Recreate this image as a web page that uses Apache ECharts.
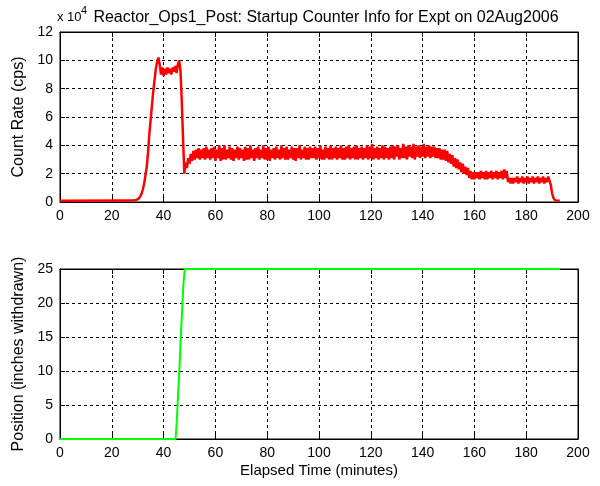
<!DOCTYPE html>
<html>
<head>
<meta charset="utf-8">
<script src="https://cdn.jsdelivr.net/npm/echarts@6/dist/echarts.min.js"></script>
<style>
  html, body { margin: 0; padding: 0; background: #fff; }
  #chart { width: 600px; height: 486px; }
</style>
</head>
<body>
<div id="chart"></div>
<script>
// count rate, in units of 1e4 cps
var preRampTimes = [0, 26.5];
var preRampRates = [0.08, 0.1];
var sampleStart = 27;   // minutes
var sampleStep = 0.5;   // minutes
var countRate = [
    // 27 - 47.5 : rise and first plateau
    0.1, 0.1, 0.1, 0.12, 0.12, 0.15, 0.2, 0.25, 0.4, 0.6,
    0.9, 1.3, 1.9, 2.5, 3.5, 4.8, 5.8, 6.8, 7.8, 8.6,
    9.4, 9.9, 10.2, 9.7, 9.0, 9.5, 8.9, 9.4, 9.0, 9.5,
    9.1, 9.4, 9.0, 9.5, 9.2, 9.6, 9.1, 9.7, 10.0, 9.3,
    7.2, 4.5,
    // 48 - 57.5
    2.0, 2.8, 2.4, 3.1, 2.7, 3.4, 2.9, 3.6, 3.0, 3.7, 3.1, 3.8, 3.0, 3.7, 3.1, 3.8, 3.0, 3.9, 3.1, 3.7,
    // 58 - 67.5
    3.0, 3.8, 3.1, 3.9, 2.9, 3.7, 3.1, 4.0, 2.9, 3.8, 3.0, 4.0, 3.0, 3.7, 3.1, 3.9, 3.0, 3.8, 2.9, 3.7,
    // 68 - 77.5
    3.1, 3.9, 3.0, 3.8, 3.1, 3.7, 2.9, 3.9, 3.0, 3.8, 3.0, 4.0, 3.1, 3.7, 2.9, 3.8, 3.1, 3.9, 3.0, 3.7,
    // 78 - 87.5
    3.1, 4.0, 3.0, 3.8, 3.0, 3.9, 2.9, 3.7, 3.1, 3.8, 3.0, 3.9, 3.1, 3.7, 3.0, 4.0, 3.1, 3.8, 3.0, 3.9,
    // 88 - 97.5
    3.0, 3.7, 3.1, 3.9, 3.0, 3.8, 2.9, 3.8, 3.1, 4.0, 3.0, 3.7, 3.1, 3.9, 3.0, 3.8, 3.0, 3.9, 3.1, 3.8,
    // 98 - 107.5
    3.1, 3.9, 3.0, 3.8, 3.1, 4.0, 3.0, 3.7, 3.0, 3.9, 3.1, 3.8, 3.0, 4.0, 3.0, 3.8, 3.1, 3.9, 3.0, 3.8,
    // 108 - 117.5
    3.1, 4.0, 3.0, 3.8, 3.0, 3.9, 3.1, 4.0, 3.0, 3.8, 3.1, 3.9, 3.0, 4.0, 3.0, 3.8, 3.1, 3.9, 3.0, 3.8,
    // 118 - 127.5
    3.1, 4.0, 3.0, 3.9, 3.1, 4.1, 3.0, 3.8, 3.1, 3.9, 3.0, 3.8, 3.1, 4.0, 3.0, 3.9, 3.1, 3.8, 3.0, 3.9,
    // 128 - 137.5
    3.1, 4.0, 3.0, 3.9, 3.2, 4.0, 3.0, 3.8, 3.1, 4.1, 3.1, 3.9, 3.0, 4.0, 3.2, 3.9, 3.1, 4.1, 3.0, 3.9,
    // 138 - 147.5
    3.2, 4.0, 3.1, 3.9, 3.2, 4.1, 3.1, 3.9, 3.2, 4.0, 3.1, 3.9, 3.2, 3.9, 3.1, 3.8, 3.1, 3.8, 3.0, 3.7,
    // 148 - 157.5
    3.0, 3.7, 2.9, 3.6, 2.8, 3.4, 2.7, 3.3, 2.5, 3.1, 2.4, 3.0, 2.3, 2.8, 2.1, 2.7, 2.0, 2.5, 1.9, 2.4,
    // 158 - 167.5
    1.7, 2.2, 1.6, 2.1, 1.6, 2.1, 1.7, 2.1, 1.6, 2.2, 1.7, 2.1, 1.6, 2.2, 1.6, 2.1, 1.7, 2.2, 1.6, 2.1,
    // 168 - 177.5
    1.7, 2.2, 1.6, 2.1, 1.7, 2.2, 1.6, 2.3, 1.7, 2.2, 1.4, 1.7, 1.3, 1.7, 1.3, 1.7, 1.4, 1.8, 1.3, 1.7,
    // 178 - 187.5
    1.4, 1.8, 1.3, 1.7, 1.4, 1.8, 1.3, 1.7, 1.4, 1.8, 1.3, 1.7, 1.4, 1.8, 1.3, 1.7, 1.4, 1.8, 1.3, 1.7,
    // 188 - 193
    1.4, 1.8, 1.5, 1.2, 0.6, 0.3, 0.15, 0.1, 0.08, 0.08, 0.08
];

// rod position (inches withdrawn)
var rodTimes = [0, 44.6, 45.0, 45.4, 45.8, 46.2, 46.5, 46.9, 47.3, 47.7, 48.2, 193];
var rodPos = [0, 0, 2, 5, 8, 11, 14, 17, 20, 23, 25, 25];

var xTicks = [0, 20, 40, 60, 80, 100, 120, 140, 160, 180, 200];
var countTicks = [0, 2, 4, 6, 8, 10, 12];
var posTicks = [0, 5, 10, 15, 20, 25];

var titleText = 'Reactor_Ops1_Post: Startup Counter Info for Expt on 02Aug2006';

var countData = [];
for (var i = 0; i < preRampTimes.length; i++) {
    countData.push([preRampTimes[i], preRampRates[i]]);
}
for (var j = 0; j < countRate.length; j++) {
    countData.push([sampleStart + j * sampleStep, countRate[j]]);
}
var rodData = rodTimes.map(function (t, k) { return [t, rodPos[k]]; });

var FONT = '"Liberation Sans", Arial, sans-serif';
var tickTxt = { color: '#000', fontFamily: FONT, fontSize: 14 };
var nameTxt = { color: '#000', fontFamily: FONT, fontSize: 15 };

function xAx(grid, pos, showLabel, name) {
    return {
        type: 'value', gridIndex: grid, position: pos,
        min: xTicks[0], max: xTicks[xTicks.length - 1], interval: 20,
        name: name || '', nameLocation: 'middle', nameGap: 24,
        nameTextStyle: nameTxt,
        axisLine: { show: true, onZero: false, lineStyle: { color: '#000', width: 1 } },
        axisTick: { show: true, inside: true, length: 5, lineStyle: { color: '#000' } },
        axisLabel: Object.assign({ show: showLabel, margin: 7 }, tickTxt),
        splitLine: { show: showLabel, lineStyle: { color: '#000', type: [3, 3], width: 1 } }
    };
}
function yAx(grid, pos, ticks, step, showLabel, name) {
    return {
        type: 'value', gridIndex: grid, position: pos,
        min: ticks[0], max: ticks[ticks.length - 1], interval: step,
        name: name || '', nameLocation: 'middle', nameGap: 29,
        nameTextStyle: Object.assign({}, nameTxt, { fontSize: 16 }),
        axisLine: { show: true, onZero: false, lineStyle: { color: '#000', width: 1 } },
        axisTick: { show: true, inside: true, length: 5, lineStyle: { color: '#000' } },
        axisLabel: Object.assign({ show: showLabel, margin: 7 }, tickTxt),
        splitLine: { show: showLabel, lineStyle: { color: '#000', type: [3, 3], width: 1 } }
    };
}

var chart = echarts.init(document.getElementById('chart'), null, { renderer: 'canvas' });

var option = {
    backgroundColor: '#fff',
    animation: false,
    title: {
        text: titleText,
        left: 321, textAlign: 'center', top: 5,
        textStyle: { color: '#000', fontFamily: FONT, fontSize: 16, fontWeight: 'normal' }
    },
    graphic: [
        { type: 'text', left: 57, top: 11, style: { text: 'x 10', fill: '#000', font: '13px ' + FONT } },
        { type: 'text', left: 81, top: 5, style: { text: '4', fill: '#000', font: '11px ' + FONT } }
    ],
    grid: [
        { left: 60, top: 32, width: 518, height: 170, show: true, backgroundColor: '#fff', borderColor: '#000', borderWidth: 1 },
        { left: 60, top: 269, width: 518, height: 170, show: true, backgroundColor: '#fff', borderColor: '#000', borderWidth: 1 }
    ],
    xAxis: [
        xAx(0, 'bottom', true),
        xAx(0, 'top', false),
        xAx(1, 'bottom', true, 'Elapsed Time (minutes)'),
        xAx(1, 'top', false)
    ],
    yAxis: [
        yAx(0, 'left', countTicks, 2, true, 'Count Rate (cps)'),
        yAx(0, 'right', countTicks, 2, false),
        yAx(1, 'left', posTicks, 5, true, 'Position (inches withdrawn)'),
        yAx(1, 'right', posTicks, 5, false)
    ],
    series: [
        {
            name: 'Count Rate', type: 'line', xAxisIndex: 0, yAxisIndex: 0,
            data: countData, showSymbol: false, symbol: 'none',
            lineStyle: { color: '#ff0000', width: 2.5 }
        },
        {
            name: 'Position', type: 'line', xAxisIndex: 2, yAxisIndex: 2,
            data: rodData, showSymbol: false, symbol: 'none',
            lineStyle: { color: '#00ff00', width: 2 }
        }
    ]
};

chart.setOption(option);
</script>
</body>
</html>
